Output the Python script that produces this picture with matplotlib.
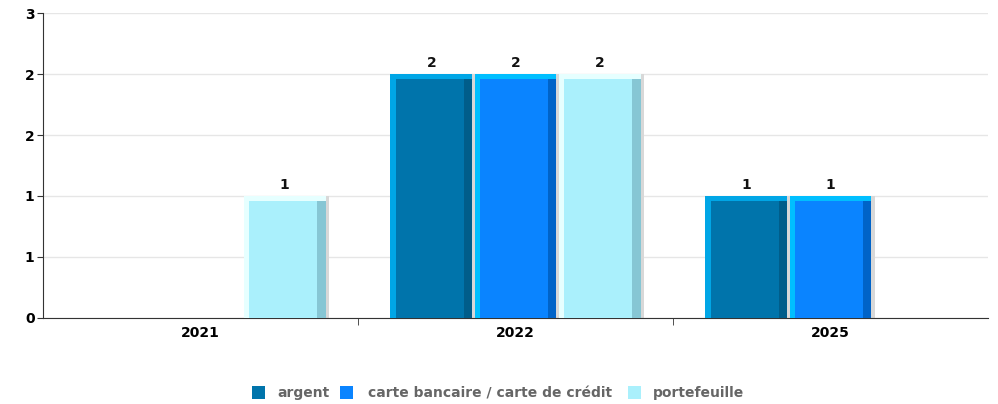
import matplotlib.pyplot as plt
from matplotlib.patches import Rectangle
import numpy as np

# data
years = ['2021', '2022', '2025']
series = ['argent', 'carte bancaire / carte de crédit', 'portefeuille']
argent = [0, 2, 1]
carte = [0, 2, 1]
portefeuille = [1, 2, 0]

body = ['#0074ab', '#0a84ff', '#aaf0fc']
light = ['#00a6e6', '#00bfff', '#e6ffff']
dark = ['#005d8a', '#0063c8', '#86c6d4']

W, H = 998, 404
fig = plt.figure(figsize=(W / 100, H / 100), dpi=100)
ax = fig.add_axes([0.0431, 0.2129, 0.9469, 0.7549])

x = np.arange(len(years))
w = 0.26
step = 0.267
for i, vals in enumerate([argent, carte, portefeuille]):
    vals = np.array(vals, dtype=float)
    keep = vals > 0
    pos = x[keep] + (i - 1) * step
    v = vals[keep]
    # shadow
    ax.bar(pos + 0.012, v, w, color='#d8d8d8', zorder=2)
    ax.bar(pos, v, w, color=body[i], zorder=3)
    # bevel
    ax.bar(pos - w / 2 + 0.009, v, 0.018, color=light[i], zorder=4)
    ax.bar(pos + w / 2 - 0.013, v, 0.026, color=dark[i], zorder=4)
    ax.bar(pos, 0.04, w, bottom=v - 0.04, color=light[i], zorder=5)
    for p, val in zip(pos, v):
        ax.text(p, val + 0.03, '%d' % val, ha='center', va='bottom',
                fontsize=10, fontweight='bold', color='#111111', zorder=6)

ax.set_xlim(-0.5, 2.5)
ax.set_ylim(0, 2.5)
yt = [0, 0.5, 1, 1.5, 2, 2.5]
ax.set_yticks(yt)
ax.set_yticklabels(['0', '1', '1', '2', '2', '3'], fontsize=10, fontweight='bold')
ax.set_xticks(x)
ax.set_xticklabels(years, fontsize=10, fontweight='bold')
ax.tick_params(axis='x', length=0, pad=6)
ax.set_xticks([0.5, 1.5], minor=True)
ax.tick_params(axis='x', which='minor', length=5, color='#333333')
ax.tick_params(axis='y', length=4, color='#333333', pad=2)
ax.grid(axis='y', color='#e6e6e6', linewidth=1, zorder=0)
ax.set_axisbelow(True)
for s in ['top', 'right']:
    ax.spines[s].set_visible(False)
ax.spines['left'].set_color('#333333')
ax.spines['bottom'].set_color('#333333')

# legend drawn by hand so all labels share one baseline
leg_sq = [252, 340, 628]
leg_tx = [277, 368, 653]
ly = 1 - 392 / H
for i in range(3):
    fig.add_artist(Rectangle((leg_sq[i] / W, ly - 6.5 / H), 13 / W, 13 / H,
                             transform=fig.transFigure, facecolor=body[i],
                             edgecolor='none'))
    fig.text(leg_tx[i] / W, ly, series[i], ha='left', va='center_baseline',
             fontsize=10, fontweight='bold', color='#666666')

fig.savefig('out.png', dpi=100)
